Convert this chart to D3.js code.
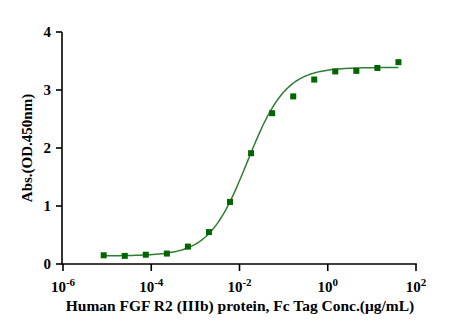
<!DOCTYPE html>
<html><head><meta charset="utf-8">
<script src="https://cdn.jsdelivr.net/npm/d3@7"></script>
<style>body{margin:0;background:#fff}svg{display:block}</style>
</head><body>
<svg id="c" width="465" height="332"></svg>
<script>
const concentrations = [8.36e-6, 2.51e-5, 7.53e-5, 2.26e-4, 6.77e-4, 2.03e-3, 6.1e-3, 0.0183, 0.0549, 0.165, 0.494, 1.48, 4.44, 13.33, 40];
const absorbance = [0.15, 0.14, 0.16, 0.18, 0.30, 0.55, 1.07, 1.91, 2.60, 2.89, 3.18, 3.32, 3.33, 3.38, 3.48];
const fitParams = {bottom: 0.14, top: 3.39, ec50: 0.0151, hill: 1.0};
const xTickExps = [-6, -4, -2, 0, 2];
const yTicks = [0, 1, 2, 3, 4];

const svg = d3.select("#c");
const x = d3.scaleLog().domain([1e-6, 1e2]).range([63, 416]);
const y = d3.scaleLinear().domain([0, 4]).range([264, 32]);
const font = "'Liberation Serif','Times New Roman',serif";

// axes
svg.append("line").attr("x1", 62).attr("x2", 62).attr("y1", y(4)).attr("y2", y(0) + 0.8)
  .attr("stroke", "#000").attr("stroke-width", 1.6);
svg.append("line").attr("x1", 62).attr("x2", x(1e2) + 0.8).attr("y1", y(0)).attr("y2", y(0))
  .attr("stroke", "#000").attr("stroke-width", 1.6);

yTicks.forEach(v => {
  svg.append("line").attr("x1", 56).attr("x2", 62).attr("y1", y(v)).attr("y2", y(v))
    .attr("stroke", "#000").attr("stroke-width", 1.6);
  svg.append("text").attr("x", 51).attr("y", y(v) + 5).attr("text-anchor", "end")
    .attr("font-family", font).attr("font-weight", "bold").attr("font-size", 15).text(v);
});

xTickExps.forEach(e => {
  const xp = x(Math.pow(10, e));
  svg.append("line").attr("x1", xp).attr("x2", xp).attr("y1", y(0)).attr("y2", y(0) + 7)
    .attr("stroke", "#000").attr("stroke-width", 1.6);
  const t = svg.append("text").attr("x", xp).attr("y", 292).attr("text-anchor", "middle")
    .attr("font-family", font).attr("font-weight", "bold").attr("font-size", 15);
  t.append("tspan").text("10");
  t.append("tspan").attr("dy", -6).attr("font-size", 11).text(e < 0 ? "-" + Math.abs(e) : String(e));
});

// fitted curve
const fit = c => fitParams.bottom + (fitParams.top - fitParams.bottom) / (1 + Math.pow(fitParams.ec50 / c, fitParams.hill));
const lx0 = Math.log10(concentrations[0]), lx1 = Math.log10(concentrations[concentrations.length - 1]);
const curve = d3.range(0, 201).map(i => Math.pow(10, lx0 + (lx1 - lx0) * i / 200));
svg.append("path").datum(curve)
  .attr("d", d3.line().x(c => x(c)).y(c => y(fit(c))))
  .attr("fill", "none").attr("stroke", "#2e7d32").attr("stroke-width", 1.5);

// points
svg.selectAll("rect.pt").data(concentrations).enter().append("rect")
  .attr("x", (c) => x(c) - 3).attr("y", (c, i) => y(absorbance[i]) - 3)
  .attr("width", 6).attr("height", 6).attr("fill", "#006400");

// titles
svg.append("text").attr("x", 240).attr("y", 311).attr("text-anchor", "middle")
  .attr("font-family", font).attr("font-weight", "bold").attr("font-size", 15.5)
  .text("Human FGF R2 (IIIb) protein, Fc Tag Conc.(μg/mL)");
svg.append("text").attr("transform", "translate(32,148) rotate(-90)").attr("text-anchor", "middle")
  .attr("font-family", font).attr("font-weight", "bold").attr("font-size", 15)
  .text("Abs.(OD.450nm)");
</script>
</body></html>
